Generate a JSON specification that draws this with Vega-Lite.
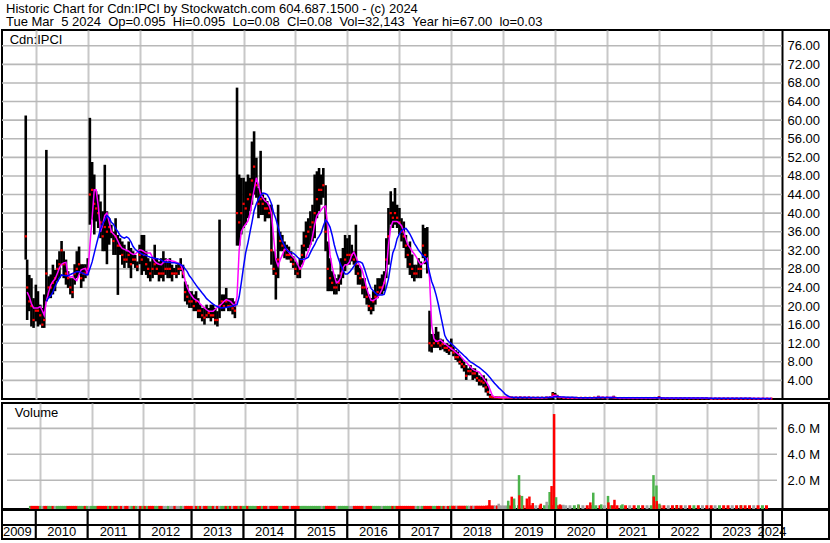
{
"$schema": "https://vega.github.io/schema/vega-lite/v6.json",
"padding": {"left": 0, "top": 2, "right": 0, "bottom": 0},
"background": "white",
"spacing": -2,
"title": {"text": ["Historic Chart for Cdn:IPCI by Stockwatch.com 604.687.1500 - (c) 2024", "Tue Mar\u00a0\u00a05 2024\u00a0\u00a0Op=0.095\u00a0\u00a0Hi=0.095\u00a0\u00a0Lo=0.08\u00a0\u00a0Cl=0.08\u00a0\u00a0Vol=32,143\u00a0\u00a0Year hi=67.00\u00a0\u00a0lo=0.03"], "anchor": "start", "frame": "group", "fontSize": 13, "fontWeight": "normal", "font": "Liberation Sans", "color": "black", "lineHeight": 13.5, "offset": 0, "dx": 4},
"datasets": {
"p": [
{"d":"2009-10-22","h":61,"l":30,"c":35,"v":30000,"k":"u"},
{"d":"2009-11-01","h":30,"l":17,"c":24,"m":23,"v":30000,"k":"d"},
{"d":"2009-11-16","h":26.7,"l":18.9,"c":21,"m":22,"v":30000,"k":"d"},
{"d":"2009-12-01","h":26,"l":15.6,"c":20,"m":20.5,"v":30000,"k":"d"},
{"d":"2009-12-16","h":21.7,"l":15.3,"c":17,"m":19.6,"v":30000,"k":"d"},
{"d":"2010-01-01","h":24.6,"l":16.7,"c":19,"m":19.6,"v":30000,"k":"u"},
{"d":"2010-01-16","h":23.2,"l":15.6,"c":19,"m":19.6,"v":30000,"k":"f"},
{"d":"2010-02-01","h":20.3,"l":16,"c":18,"m":19.9,"v":30000,"k":"d"},
{"d":"2010-02-16","h":19.6,"l":15.3,"c":16,"m":19,"v":30000,"k":"d"},
{"d":"2010-03-01","h":22.5,"l":15.3,"c":17,"m":18,"v":30000,"k":"u"},
{"d":"2010-03-16","h":53.6,"l":21,"c":27,"m":21,"b":21,"v":30000,"k":"u"},
{"d":"2010-04-01","h":26.4,"l":21.7,"c":24,"m":23,"b":21.8,"v":30000,"k":"d"},
{"d":"2010-04-16","h":26.8,"l":21.7,"c":24,"m":24.5,"b":22.2,"v":30000,"k":"f"},
{"d":"2010-05-01","h":28.9,"l":22.5,"c":25,"m":25.3,"b":23,"v":30000,"k":"u"},
{"d":"2010-05-16","h":27.8,"l":23.2,"c":26,"m":25.8,"b":24.2,"v":30000,"k":"u"},
{"d":"2010-06-01","h":30,"l":25.3,"c":28,"m":27,"b":25.2,"v":30000,"k":"u"},
{"d":"2010-06-16","h":31.8,"l":26,"c":29,"m":28.2,"b":26,"v":30000,"k":"u"},
{"d":"2010-07-01","h":34,"l":29,"c":32,"m":29,"b":26.7,"v":30000,"k":"u"},
{"d":"2010-07-16","h":31.8,"l":26,"c":29,"m":29.3,"b":26.6,"v":30000,"k":"d"},
{"d":"2010-08-01","h":30,"l":24.6,"c":27,"m":29.4,"b":26.5,"v":30000,"k":"d"},
{"d":"2010-08-16","h":27.5,"l":23.9,"c":26,"m":26.5,"b":26.5,"v":30000,"k":"d"},
{"d":"2010-09-01","h":26,"l":22.5,"c":24,"m":26.2,"b":26.8,"v":30000,"k":"d"},
{"d":"2010-09-16","h":26,"l":21.7,"c":23,"m":26.4,"b":27,"v":30000,"k":"d"},
{"d":"2010-10-01","h":29,"l":24.6,"c":27,"m":25.8,"b":27.2,"v":30000,"k":"u"},
{"d":"2010-10-16","h":31.8,"l":26,"c":28,"m":25.5,"b":27.4,"v":30000,"k":"u"},
{"d":"2010-11-01","h":32.8,"l":26.7,"c":29,"m":26.8,"b":27.4,"v":30000,"k":"u"},
{"d":"2010-11-16","h":29,"l":23.9,"c":26,"m":27.8,"b":27.2,"v":30000,"k":"d"},
{"d":"2010-12-01","h":29,"l":25.3,"c":27,"m":28,"b":27,"v":30000,"k":"u"},
{"d":"2010-12-16","h":29,"l":26,"c":27,"m":28.1,"b":26.8,"v":30000,"k":"f"},
{"d":"2011-01-01","h":30.3,"l":26.7,"c":28,"m":26.7,"b":26.7,"v":30000,"k":"u"},
{"d":"2011-01-16","h":60.5,"l":37.5,"c":44,"m":33,"b":28,"v":30000,"k":"u"},
{"d":"2011-02-01","h":51,"l":38.6,"c":45,"m":39,"b":29.5,"v":30000,"k":"u"},
{"d":"2011-02-16","h":48.3,"l":35.4,"c":42,"m":45,"b":31.4,"v":30000,"k":"d"},
{"d":"2011-03-01","h":44.7,"l":38.2,"c":41,"m":45,"b":33,"v":30000,"k":"d"},
{"d":"2011-03-16","h":44,"l":36.8,"c":40,"m":41.5,"b":34.8,"v":30000,"k":"d"},
{"d":"2011-04-01","h":42.5,"l":34.6,"c":38,"m":36,"b":36.6,"v":30000,"k":"d"},
{"d":"2011-04-16","h":40.4,"l":31.8,"c":35,"m":37.5,"b":37.7,"v":30000,"k":"d"},
{"d":"2011-05-01","h":50.4,"l":31.8,"c":37,"m":39.5,"b":38.5,"v":30000,"k":"u"},
{"d":"2011-05-16","h":40.4,"l":29,"c":36,"m":40,"b":39.5,"v":30000,"k":"d"},
{"d":"2011-06-01","h":38.9,"l":33.2,"c":37,"m":38,"b":39,"v":30000,"k":"u"},
{"d":"2011-06-16","h":37.5,"l":34.6,"c":36,"m":36,"b":38,"v":30000,"k":"d"},
{"d":"2011-07-01","h":36,"l":31,"c":34,"m":35.5,"b":37.6,"v":30000,"k":"d"},
{"d":"2011-07-16","h":38.9,"l":31,"c":35,"m":35,"b":36.7,"v":30000,"k":"u"},
{"d":"2011-08-01","h":35.3,"l":22.4,"c":33,"m":34,"b":36,"v":30000,"k":"d"},
{"d":"2011-08-16","h":34.6,"l":31,"c":33,"m":33,"b":35.2,"v":30000,"k":"f"},
{"d":"2011-09-01","h":33.9,"l":28.9,"c":31,"m":32.4,"b":34.8,"v":30000,"k":"d"},
{"d":"2011-09-16","h":33.2,"l":28.2,"c":30,"m":32.2,"b":34.6,"v":30000,"k":"d"},
{"d":"2011-10-01","h":31.8,"l":29.3,"c":30,"m":32,"b":34.9,"v":30000,"k":"f"},
{"d":"2011-10-16","h":33.9,"l":28.2,"c":31,"m":31.8,"b":34.6,"v":30000,"k":"u"},
{"d":"2011-11-01","h":32.5,"l":26,"c":29,"m":31.4,"b":33.8,"v":30000,"k":"d"},
{"d":"2011-11-16","h":31.8,"l":29,"c":30,"m":31.1,"b":32.8,"v":30000,"k":"u"},
{"d":"2011-12-01","h":31,"l":28.2,"c":30,"m":31.2,"b":32.2,"v":30000,"k":"f"},
{"d":"2011-12-16","h":29.6,"l":27.5,"c":28.5,"m":31.6,"b":31.8,"v":30000,"k":"d"},
{"d":"2012-01-01","h":33.2,"l":29,"c":31,"m":32.1,"b":31.5,"v":30000,"k":"u"},
{"d":"2012-01-16","h":35.3,"l":26.7,"c":30,"m":32,"b":31.2,"v":30000,"k":"d"},
{"d":"2012-02-01","h":35.3,"l":27.5,"c":31,"m":31.7,"b":31,"v":30000,"k":"u"},
{"d":"2012-02-16","h":31.8,"l":26.7,"c":29,"m":31.4,"b":30.9,"v":30000,"k":"d"},
{"d":"2012-03-01","h":30.3,"l":26,"c":28,"m":31.4,"b":30.7,"v":30000,"k":"d"},
{"d":"2012-03-16","h":29.6,"l":25.3,"c":27,"m":31.4,"b":30.5,"v":30000,"k":"d"},
{"d":"2012-04-01","h":30.3,"l":26,"c":28,"m":30.5,"b":30.4,"v":30000,"k":"u"},
{"d":"2012-04-16","h":33.2,"l":26.7,"c":29,"m":29.6,"b":30.3,"v":30000,"k":"u"},
{"d":"2012-05-01","h":30.3,"l":26.7,"c":28,"m":29.2,"b":30.2,"v":30000,"k":"d"},
{"d":"2012-05-16","h":29.6,"l":25.3,"c":27,"m":29,"b":30.1,"v":30000,"k":"d"},
{"d":"2012-06-01","h":30.3,"l":26,"c":27,"m":28.9,"b":29.9,"v":30000,"k":"f"},
{"d":"2012-06-16","h":31.8,"l":25.3,"c":27,"m":29.4,"b":29.6,"v":30000,"k":"f"},
{"d":"2012-07-01","h":30.3,"l":26.7,"c":28,"m":29.8,"b":29.5,"v":30000,"k":"u"},
{"d":"2012-07-16","h":29.6,"l":26,"c":28,"m":30,"b":29.4,"v":30000,"k":"f"},
{"d":"2012-08-01","h":30.3,"l":26,"c":28,"m":29.8,"b":29.4,"v":30000,"k":"f"},
{"d":"2012-08-16","h":28.9,"l":25.3,"c":27,"m":29.7,"b":29.3,"v":30000,"k":"d"},
{"d":"2012-09-01","h":28.2,"l":26.7,"c":27,"m":29.6,"b":29.3,"v":30000,"k":"f"},
{"d":"2012-09-16","h":28.9,"l":26,"c":27,"m":29.4,"b":29.2,"v":30000,"k":"f"},
{"d":"2012-10-01","h":29.3,"l":26.7,"c":28,"m":29.2,"b":29.1,"v":30000,"k":"u"},
{"d":"2012-10-16","h":30.3,"l":27.5,"c":28,"m":28.9,"b":28.9,"v":30000,"k":"f"},
{"d":"2012-11-01","h":28.9,"l":26,"c":27,"m":27.5,"b":28.6,"v":30000,"k":"d"},
{"d":"2012-11-16","h":25.3,"l":21,"c":23,"m":25.5,"b":28,"v":30000,"k":"d"},
{"d":"2012-12-01","h":24.6,"l":20.3,"c":22,"m":24,"b":27.4,"v":30000,"k":"d"},
{"d":"2012-12-16","h":23.2,"l":19.6,"c":21,"m":23,"b":26.5,"v":30000,"k":"d"},
{"d":"2013-01-01","h":23.2,"l":19.6,"c":21,"m":22.2,"b":25.9,"v":30000,"k":"f"},
{"d":"2013-01-16","h":22.5,"l":18.9,"c":20,"m":21.6,"b":25.2,"v":30000,"k":"d"},
{"d":"2013-02-01","h":23.2,"l":18.9,"c":21,"m":21.3,"b":24.5,"v":30000,"k":"u"},
{"d":"2013-02-16","h":21.7,"l":17.4,"c":19,"m":21,"b":23.9,"v":30000,"k":"d"},
{"d":"2013-03-01","h":20.3,"l":17.4,"c":19,"m":20.5,"b":23.4,"v":30000,"k":"f"},
{"d":"2013-03-16","h":19.6,"l":16.7,"c":18,"m":20,"b":22.8,"v":30000,"k":"d"},
{"d":"2013-04-01","h":19.6,"l":16,"c":17.5,"m":19.6,"b":22.2,"v":30000,"k":"d"},
{"d":"2013-04-16","h":20.3,"l":17.4,"c":18,"m":19.2,"b":21.6,"v":30000,"k":"u"},
{"d":"2013-05-01","h":19.6,"l":17.4,"c":18.5,"m":18.9,"b":21.2,"v":30000,"k":"u"},
{"d":"2013-05-16","h":20.3,"l":16.7,"c":18,"m":18.9,"b":20.8,"v":30000,"k":"d"},
{"d":"2013-06-01","h":20.3,"l":17.4,"c":18,"m":18.9,"b":20.4,"v":30000,"k":"f"},
{"d":"2013-06-16","h":19.6,"l":16,"c":17,"m":19.3,"b":20.1,"v":30000,"k":"d"},
{"d":"2013-07-01","h":18.9,"l":15.6,"c":17,"m":19.7,"b":19.9,"v":30000,"k":"f"},
{"d":"2013-07-16","h":38.6,"l":17.4,"c":20,"m":20.1,"b":19.7,"v":30000,"k":"u"},
{"d":"2013-08-01","h":22.5,"l":18.9,"c":21,"m":20.5,"b":19.6,"v":30000,"k":"u"},
{"d":"2013-08-16","h":22.5,"l":18.9,"c":20,"m":21,"b":19.7,"v":30000,"k":"d"},
{"d":"2013-09-01","h":23.9,"l":19.6,"c":21,"m":21.4,"b":19.7,"v":30000,"k":"u"},
{"d":"2013-09-16","h":21.7,"l":18.9,"c":20,"m":21.2,"b":19.8,"v":30000,"k":"d"},
{"d":"2013-10-01","h":21.7,"l":18.9,"c":20,"m":21,"b":19.9,"v":30000,"k":"f"},
{"d":"2013-10-16","h":21.7,"l":18.2,"c":19.5,"m":20.5,"b":20,"v":30000,"k":"d"},
{"d":"2013-11-01","h":21,"l":17.4,"c":19,"m":20,"b":20.2,"v":30000,"k":"d"},
{"d":"2013-11-16","h":67,"l":33,"c":40,"m":22,"b":20.3,"v":30000,"k":"u"},
{"d":"2013-12-01","h":48.3,"l":33,"c":38,"m":32,"b":22,"v":30000,"k":"d"},
{"d":"2013-12-16","h":47.6,"l":35.4,"c":40,"m":36,"b":25,"v":30000,"k":"u"},
{"d":"2014-01-01","h":47.6,"l":36.8,"c":42,"m":37,"b":28.5,"v":30000,"k":"u"},
{"d":"2014-01-16","h":46.8,"l":37.5,"c":41,"m":37.6,"b":31.5,"v":30000,"k":"d"},
{"d":"2014-02-01","h":48.3,"l":38.9,"c":43,"m":38.3,"b":33.6,"v":30000,"k":"u"},
{"d":"2014-02-16","h":47.6,"l":40.4,"c":44,"m":40,"b":36,"v":30000,"k":"u"},
{"d":"2014-03-01","h":55.4,"l":41.8,"c":47,"m":42.5,"b":38,"v":30000,"k":"u"},
{"d":"2014-03-16","h":57.6,"l":44,"c":50,"m":45,"b":40.5,"v":30000,"k":"u"},
{"d":"2014-04-01","h":51.9,"l":43.3,"c":46,"m":47.6,"b":42,"v":30000,"k":"d"},
{"d":"2014-04-16","h":45.4,"l":38.9,"c":42,"m":46,"b":43,"v":30000,"k":"d"},
{"d":"2014-05-01","h":53.4,"l":39.6,"c":43,"m":44,"b":43.8,"v":30000,"k":"u"},
{"d":"2014-05-16","h":44,"l":39.6,"c":42,"m":43.3,"b":44.3,"v":30000,"k":"d"},
{"d":"2014-06-01","h":43.3,"l":38.2,"c":41,"m":42.6,"b":44.2,"v":30000,"k":"d"},
{"d":"2014-06-16","h":42.6,"l":38.9,"c":41,"m":42.3,"b":44,"v":30000,"k":"f"},
{"d":"2014-07-01","h":41.8,"l":38.9,"c":40,"m":41.5,"b":43.2,"v":30000,"k":"d"},
{"d":"2014-07-16","h":41.8,"l":28.9,"c":32,"m":40,"b":42,"v":30000,"k":"d"},
{"d":"2014-08-01","h":31.8,"l":26.7,"c":28,"m":34.6,"b":40,"v":30000,"k":"d"},
{"d":"2014-08-16","h":30.3,"l":21.4,"c":27,"m":30,"b":38.8,"v":30000,"k":"d"},
{"d":"2014-09-01","h":41.8,"l":26,"c":30,"m":28.6,"b":37,"v":30000,"k":"u"},
{"d":"2014-09-16","h":36,"l":31.8,"c":34,"m":30,"b":35.2,"v":30000,"k":"u"},
{"d":"2014-10-01","h":35.3,"l":31.8,"c":33,"m":31,"b":33.9,"v":30000,"k":"d"},
{"d":"2014-10-16","h":33.9,"l":30.3,"c":32,"m":32.2,"b":33,"v":30000,"k":"d"},
{"d":"2014-11-01","h":33.2,"l":30,"c":31,"m":32.2,"b":32,"v":30000,"k":"d"},
{"d":"2014-11-16","h":32.8,"l":30,"c":31,"m":31.6,"b":31.7,"v":30000,"k":"f"},
{"d":"2014-12-01","h":31.8,"l":29.3,"c":30,"m":31,"b":31.5,"v":30000,"k":"d"},
{"d":"2014-12-16","h":30.7,"l":28.2,"c":29,"m":30.5,"b":31.4,"v":30000,"k":"d"},
{"d":"2015-01-01","h":29.6,"l":26.7,"c":28,"m":30,"b":31,"v":30000,"k":"d"},
{"d":"2015-01-16","h":28.9,"l":26,"c":27,"m":29,"b":30.5,"v":30000,"k":"d"},
{"d":"2015-02-01","h":30.3,"l":26,"c":28,"m":28,"b":30.1,"v":30000,"k":"u"},
{"d":"2015-02-16","h":33.2,"l":28.9,"c":31,"m":28.5,"b":30,"v":30000,"k":"u"},
{"d":"2015-03-01","h":36,"l":30.3,"c":33,"m":29.6,"b":30.1,"v":30000,"k":"u"},
{"d":"2015-03-16","h":38.2,"l":31.8,"c":35,"m":30.5,"b":30.2,"v":30000,"k":"u"},
{"d":"2015-04-01","h":38.9,"l":32.5,"c":36,"m":31.8,"b":30.5,"v":30000,"k":"u"},
{"d":"2015-04-16","h":40.4,"l":33.2,"c":37,"m":33,"b":31.5,"v":30000,"k":"u"},
{"d":"2015-05-01","h":41.8,"l":33.9,"c":38,"m":35,"b":32.4,"v":30000,"k":"u"},
{"d":"2015-05-16","h":48.3,"l":34.6,"c":40,"m":37.5,"b":33.2,"v":30000,"k":"u"},
{"d":"2015-06-01","h":49,"l":38.9,"c":43,"m":39.5,"b":34.3,"v":30000,"k":"u"},
{"d":"2015-06-16","h":49.7,"l":40.4,"c":45,"m":40,"b":35,"v":30000,"k":"u"},
{"d":"2015-07-01","h":48.3,"l":41.8,"c":45,"m":40.7,"b":35.8,"v":30000,"k":"f"},
{"d":"2015-07-16","h":49.7,"l":43.3,"c":46,"m":41.3,"b":37.2,"v":30000,"k":"u"},
{"d":"2015-08-01","h":46,"l":31.8,"c":36,"m":41.5,"b":38.5,"v":30000,"k":"d"},
{"d":"2015-08-16","h":33.9,"l":23.2,"c":28,"m":37,"b":38,"v":30000,"k":"d"},
{"d":"2015-09-01","h":30.3,"l":23.2,"c":26,"m":31,"b":37,"v":30000,"k":"d"},
{"d":"2015-09-16","h":27.5,"l":23.2,"c":25,"m":28.5,"b":35.3,"v":30000,"k":"d"},
{"d":"2015-10-01","h":26.8,"l":22.5,"c":24,"m":26.5,"b":33.2,"v":30000,"k":"d"},
{"d":"2015-10-16","h":26,"l":22.5,"c":24,"m":25,"b":31.5,"v":30000,"k":"f"},
{"d":"2015-11-01","h":26.8,"l":23.2,"c":25,"m":25.3,"b":30,"v":30000,"k":"u"},
{"d":"2015-11-16","h":30.3,"l":24.6,"c":27,"m":26.2,"b":28.8,"v":30000,"k":"u"},
{"d":"2015-12-01","h":32.5,"l":26,"c":28,"m":28.2,"b":27.8,"v":30000,"k":"u"},
{"d":"2015-12-16","h":35.3,"l":27.5,"c":30,"m":28.9,"b":26.9,"v":30000,"k":"u"},
{"d":"2016-01-01","h":34.6,"l":28.9,"c":31,"m":28.9,"b":26.9,"v":30000,"k":"u"},
{"d":"2016-01-16","h":35.3,"l":28.9,"c":31,"m":29.5,"b":27.3,"v":30000,"k":"f"},
{"d":"2016-02-01","h":33.2,"l":29.6,"c":31,"m":31,"b":27.9,"v":30000,"k":"f"},
{"d":"2016-02-16","h":31.8,"l":28.9,"c":30,"m":31.6,"b":28.6,"v":30000,"k":"d"},
{"d":"2016-03-01","h":37.5,"l":26.7,"c":29,"m":30.6,"b":29.2,"v":30000,"k":"d"},
{"d":"2016-03-16","h":28.9,"l":24.6,"c":27,"m":29.4,"b":29.6,"v":30000,"k":"d"},
{"d":"2016-04-01","h":28.2,"l":24.6,"c":26,"m":28.5,"b":29.5,"v":30000,"k":"d"},
{"d":"2016-04-16","h":26,"l":22.5,"c":24,"m":27.5,"b":29.2,"v":30000,"k":"d"},
{"d":"2016-05-01","h":26,"l":21.7,"c":24,"m":25.8,"b":28,"v":30000,"k":"f"},
{"d":"2016-05-16","h":23.9,"l":20.3,"c":22,"m":23.8,"b":26.5,"v":30000,"k":"d"},
{"d":"2016-06-01","h":22.5,"l":18.9,"c":20,"m":22.2,"b":25,"v":30000,"k":"d"},
{"d":"2016-06-16","h":21.7,"l":18.2,"c":19.5,"m":21.2,"b":23.8,"v":30000,"k":"d"},
{"d":"2016-07-01","h":23.2,"l":18.9,"c":21,"m":21.2,"b":23.3,"v":30000,"k":"u"},
{"d":"2016-07-16","h":24.6,"l":20.3,"c":22,"m":21.5,"b":22.8,"v":30000,"k":"u"},
{"d":"2016-08-01","h":26,"l":21.7,"c":23,"m":21.8,"b":22.4,"v":30000,"k":"u"},
{"d":"2016-08-16","h":26,"l":22.5,"c":24,"m":22.6,"b":22.4,"v":30000,"k":"u"},
{"d":"2016-09-01","h":26.8,"l":22.5,"c":24,"m":23.6,"b":22.4,"v":30000,"k":"f"},
{"d":"2016-09-16","h":27.5,"l":23.2,"c":25,"m":25,"b":22.5,"v":30000,"k":"u"},
{"d":"2016-10-01","h":34.6,"l":26,"c":30,"m":27.5,"b":24,"v":30000,"k":"u"},
{"d":"2016-10-16","h":41.1,"l":28.9,"c":35,"m":33,"b":25.8,"v":30000,"k":"u"},
{"d":"2016-11-01","h":44.7,"l":37.5,"c":40,"m":37,"b":28.9,"v":30000,"k":"u"},
{"d":"2016-11-16","h":42.5,"l":36.8,"c":39,"m":38.2,"b":31.5,"v":30000,"k":"d"},
{"d":"2016-12-01","h":45.4,"l":37.5,"c":40,"m":38.2,"b":32.6,"v":30000,"k":"u"},
{"d":"2016-12-16","h":41.8,"l":36.8,"c":39,"m":38.2,"b":34.5,"v":30000,"k":"d"},
{"d":"2017-01-01","h":41.1,"l":35.4,"c":38,"m":37.8,"b":35.5,"v":30000,"k":"d"},
{"d":"2017-01-16","h":38.9,"l":33.9,"c":36,"m":37.3,"b":36.2,"v":30000,"k":"d"},
{"d":"2017-02-01","h":38.2,"l":32.5,"c":35,"m":36,"b":36.6,"v":30000,"k":"d"},
{"d":"2017-02-16","h":35.3,"l":30.3,"c":33,"m":34.4,"b":36.7,"v":30000,"k":"d"},
{"d":"2017-03-01","h":33.2,"l":28.2,"c":31,"m":33.2,"b":36.2,"v":30000,"k":"d"},
{"d":"2017-03-16","h":33.9,"l":26.7,"c":29,"m":32.6,"b":35.5,"v":30000,"k":"d"},
{"d":"2017-04-01","h":31.1,"l":26,"c":28,"m":31.8,"b":34.5,"v":30000,"k":"d"},
{"d":"2017-04-16","h":28.9,"l":25.3,"c":27,"m":31.2,"b":33.5,"v":30000,"k":"d"},
{"d":"2017-05-01","h":28.9,"l":26,"c":27,"m":30.5,"b":32.8,"v":30000,"k":"f"},
{"d":"2017-05-16","h":30.3,"l":26,"c":28,"m":29.6,"b":32,"v":30000,"k":"u"},
{"d":"2017-06-01","h":29.6,"l":26,"c":28,"m":28.9,"b":31.4,"v":30000,"k":"f"},
{"d":"2017-06-16","h":37.5,"l":30.3,"c":33,"m":29.2,"b":30.8,"v":30000,"k":"u"},
{"d":"2017-07-01","h":36.8,"l":29,"c":31,"m":29.6,"b":30.5,"v":30000,"k":"d"},
{"d":"2017-07-16","h":37,"l":27,"c":30,"m":30.2,"b":29.5,"v":30000,"k":"d"},
{"d":"2017-08-01","h":19,"l":10.2,"c":12,"m":26,"b":27.2,"v":30000,"k":"d"},
{"d":"2017-08-16","h":14,"l":10,"c":11.5,"m":16,"b":25.3,"v":30000,"k":"d"},
{"d":"2017-09-01","h":14,"l":11,"c":12,"m":13,"b":24,"v":30000,"k":"u"},
{"d":"2017-09-16","h":15.5,"l":11,"c":12.5,"m":12.4,"b":22.4,"v":30000,"k":"u"},
{"d":"2017-10-01","h":14.5,"l":11,"c":12,"m":12.5,"b":20.5,"v":30000,"k":"d"},
{"d":"2017-10-16","h":13,"l":10.5,"c":11.5,"m":12.7,"b":18.3,"v":30000,"k":"d"},
{"d":"2017-11-01","h":12.8,"l":10.7,"c":11.8,"m":12.3,"b":16,"v":30000,"k":"u"},
{"d":"2017-11-16","h":11.7,"l":10.2,"c":11,"m":11.9,"b":13.7,"v":30000,"k":"d"},
{"d":"2017-12-01","h":12,"l":9.9,"c":11,"m":11.6,"b":12.8,"v":30000,"k":"f"},
{"d":"2017-12-16","h":11.7,"l":9.5,"c":10.5,"m":11.2,"b":12.3,"v":30000,"k":"d"},
{"d":"2018-01-01","h":13,"l":10.2,"c":11,"m":10.8,"b":11.9,"v":40000,"k":"u"},
{"d":"2018-01-16","h":11.3,"l":9.2,"c":10,"m":10.5,"b":11.5,"v":40000,"k":"d"},
{"d":"2018-02-01","h":10.5,"l":8.4,"c":9,"m":10.1,"b":11,"v":40000,"k":"d"},
{"d":"2018-02-16","h":10.2,"l":8,"c":9,"m":9.7,"b":10.6,"v":40000,"k":"f"},
{"d":"2018-03-01","h":9.5,"l":7.4,"c":8,"m":9.4,"b":10.2,"v":40000,"k":"d"},
{"d":"2018-03-16","h":8.8,"l":6.6,"c":7.5,"m":8.9,"b":9.8,"v":40000,"k":"d"},
{"d":"2018-04-01","h":8.1,"l":5.9,"c":7,"m":8.3,"b":9.3,"v":40000,"k":"d"},
{"d":"2018-04-16","h":7.3,"l":4.1,"c":5,"m":7.9,"b":8.9,"v":40000,"k":"d"},
{"d":"2018-05-01","h":6.6,"l":5.1,"c":6,"m":7.4,"b":8.4,"v":40000,"k":"u"},
{"d":"2018-05-16","h":7.3,"l":5.1,"c":6,"m":6.9,"b":8,"v":40000,"k":"f"},
{"d":"2018-06-01","h":6.6,"l":4.1,"c":5.5,"m":6.4,"b":7.7,"v":40000,"k":"d"},
{"d":"2018-06-16","h":6.6,"l":4.4,"c":5.5,"m":6.1,"b":7.4,"v":40000,"k":"f"},
{"d":"2018-07-01","h":5.8,"l":3.7,"c":4.5,"m":6,"b":7.1,"v":40000,"k":"d"},
{"d":"2018-07-16","h":5.1,"l":2.9,"c":4,"m":5.8,"b":6.8,"v":40000,"k":"d"},
{"d":"2018-08-01","h":4.8,"l":2.9,"c":3.8,"m":5.2,"b":6.4,"v":40000,"k":"d"},
{"d":"2018-08-16","h":5.1,"l":2.5,"c":3.5,"m":4.4,"b":6,"v":40000,"k":"d"},
{"d":"2018-09-01","h":4.4,"l":1.4,"c":2.5,"m":3.8,"b":5.6,"v":40000,"k":"d"},
{"d":"2018-09-16","h":2.9,"l":0.7,"c":1.5,"m":3.1,"b":5.1,"v":60000,"k":"d"},
{"d":"2018-10-01","h":1.1,"l":0.3,"c":0.5,"m":2,"b":4.6,"v":60000,"k":"d"},
{"d":"2018-10-16","h":0.6,"l":0.2,"c":0.4,"m":0.8,"b":4,"v":60000,"k":"d"},
{"d":"2018-11-01","h":0.5,"l":0.2,"c":0.35,"m":0.4,"b":3.4,"v":60000,"k":"d"},
{"d":"2018-11-16","h":0.5,"l":0.2,"c":0.35,"m":0.35,"b":2.9,"v":60000,"k":"f"},
{"d":"2018-12-01","h":0.5,"l":0.2,"c":0.3,"m":0.35,"b":2.4,"v":60000,"k":"d"},
{"d":"2018-12-16","h":0.45,"l":0.2,"c":0.3,"m":0.3,"b":2,"v":60000,"k":"f"},
{"d":"2019-01-01","h":0.45,"l":0.2,"c":0.3,"m":0.3,"b":1.5,"v":60000,"k":"f"},
{"d":"2019-01-16","h":0.45,"l":0.2,"c":0.3,"m":0.3,"b":1,"v":60000,"k":"f"},
{"d":"2019-02-01","h":0.45,"l":0.2,"c":0.3,"m":0.3,"b":0.7,"v":60000,"k":"f"},
{"d":"2019-02-16","h":0.5,"l":0.2,"c":0.32,"m":0.3,"b":0.45,"v":60000,"k":"u"},
{"d":"2019-03-01","h":0.5,"l":0.2,"c":0.3,"m":0.3,"b":0.35,"v":60000,"k":"d"},
{"d":"2019-04-01","h":0.5,"l":0.2,"c":0.3,"m":0.3,"b":0.32,"v":80000,"k":"f"},
{"d":"2019-05-01","h":0.55,"l":0.2,"c":0.3,"m":0.3,"b":0.32,"v":80000,"k":"u"},
{"d":"2019-06-01","h":0.5,"l":0.2,"c":0.3,"m":0.3,"b":0.32,"v":80000,"k":"d"},
{"d":"2019-07-01","h":0.5,"l":0.2,"c":0.3,"m":0.3,"b":0.31,"v":80000,"k":"d"},
{"d":"2019-08-01","h":0.45,"l":0.2,"c":0.28,"m":0.29,"b":0.3,"v":80000,"k":"d"},
{"d":"2019-09-01","h":0.45,"l":0.18,"c":0.28,"m":0.28,"b":0.3,"v":80000,"k":"f"},
{"d":"2019-10-01","h":0.45,"l":0.18,"c":0.27,"m":0.28,"b":0.3,"v":80000,"k":"d"},
{"d":"2019-11-01","h":0.5,"l":0.2,"c":0.3,"m":0.3,"b":0.3,"v":80000,"k":"u"},
{"d":"2019-12-01","h":0.6,"l":0.25,"c":0.4,"m":0.35,"b":0.35,"v":80000,"k":"u"},
{"d":"2019-12-16","h":1.5,"l":0.3,"c":1,"m":0.6,"b":0.4,"v":80000,"k":"u"},
{"d":"2020-01-01","h":1.3,"l":0.4,"c":0.7,"m":0.8,"b":0.5,"v":80000,"k":"d"},
{"d":"2020-01-16","h":0.9,"l":0.3,"c":0.5,"m":0.6,"b":0.55,"v":80000,"k":"d"},
{"d":"2020-02-01","h":0.6,"l":0.25,"c":0.35,"m":0.45,"b":0.5,"v":80000,"k":"d"},
{"d":"2020-03-01","h":0.45,"l":0.15,"c":0.25,"m":0.3,"b":0.45,"v":80000,"k":"d"},
{"d":"2020-04-01","h":0.4,"l":0.15,"c":0.25,"m":0.28,"b":0.4,"v":80000,"k":"f"},
{"d":"2020-05-01","h":0.4,"l":0.15,"c":0.25,"m":0.27,"b":0.35,"v":80000,"k":"f"},
{"d":"2020-06-01","h":0.4,"l":0.15,"c":0.25,"m":0.27,"b":0.3,"v":80000,"k":"u"},
{"d":"2020-07-01","h":0.4,"l":0.15,"c":0.25,"m":0.27,"b":0.28,"v":80000,"k":"d"},
{"d":"2020-08-01","h":0.4,"l":0.15,"c":0.25,"m":0.27,"b":0.28,"v":80000,"k":"f"},
{"d":"2020-09-01","h":0.4,"l":0.15,"c":0.25,"m":0.27,"b":0.28,"v":80000,"k":"d"},
{"d":"2020-10-01","h":0.45,"l":0.15,"c":0.28,"m":0.28,"b":0.28,"v":80000,"k":"u"},
{"d":"2020-11-01","h":0.7,"l":0.2,"c":0.35,"m":0.35,"b":0.3,"v":80000,"k":"u"},
{"d":"2020-12-01","h":0.45,"l":0.2,"c":0.3,"m":0.32,"b":0.3,"v":80000,"k":"d"},
{"d":"2021-01-01","h":0.45,"l":0.2,"c":0.3,"m":0.3,"b":0.3,"v":80000,"k":"f"},
{"d":"2021-02-16","h":0.7,"l":0.2,"c":0.35,"m":0.35,"b":0.32,"v":80000,"k":"u"},
{"d":"2021-03-01","h":0.4,"l":0.15,"c":0.25,"m":0.3,"b":0.3,"v":80000,"k":"d"},
{"d":"2021-04-01","h":0.35,"l":0.12,"c":0.2,"m":0.22,"b":0.28,"v":80000,"k":"d"},
{"d":"2021-05-01","h":0.35,"l":0.12,"c":0.2,"m":0.22,"b":0.26,"v":80000,"k":"u"},
{"d":"2021-06-01","h":0.35,"l":0.12,"c":0.2,"m":0.22,"b":0.25,"v":80000,"k":"d"},
{"d":"2021-07-01","h":0.35,"l":0.12,"c":0.2,"m":0.22,"b":0.25,"v":80000,"k":"f"},
{"d":"2021-08-01","h":0.35,"l":0.12,"c":0.2,"m":0.22,"b":0.25,"v":80000,"k":"d"},
{"d":"2021-09-01","h":0.35,"l":0.12,"c":0.2,"m":0.22,"b":0.25,"v":80000,"k":"u"},
{"d":"2021-10-01","h":0.35,"l":0.12,"c":0.2,"m":0.22,"b":0.25,"v":80000,"k":"d"},
{"d":"2021-11-01","h":0.35,"l":0.12,"c":0.2,"m":0.22,"b":0.25,"v":80000,"k":"f"},
{"d":"2021-12-01","h":0.4,"l":0.12,"c":0.22,"m":0.23,"b":0.25,"v":80000,"k":"u"},
{"d":"2022-01-01","h":0.6,"l":0.15,"c":0.3,"m":0.3,"b":0.25,"v":80000,"k":"u"},
{"d":"2022-02-01","h":0.3,"l":0.08,"c":0.15,"m":0.2,"b":0.24,"v":80000,"k":"d"},
{"d":"2022-03-01","h":0.3,"l":0.08,"c":0.15,"m":0.16,"b":0.22,"v":80000,"k":"d"},
{"d":"2022-04-01","h":0.3,"l":0.08,"c":0.15,"m":0.16,"b":0.2,"v":80000,"k":"f"},
{"d":"2022-05-01","h":0.3,"l":0.08,"c":0.15,"m":0.16,"b":0.2,"v":80000,"k":"d"},
{"d":"2022-06-01","h":0.3,"l":0.08,"c":0.15,"m":0.16,"b":0.2,"v":80000,"k":"u"},
{"d":"2022-07-01","h":0.3,"l":0.08,"c":0.15,"m":0.16,"b":0.2,"v":80000,"k":"d"},
{"d":"2022-08-01","h":0.3,"l":0.08,"c":0.15,"m":0.16,"b":0.2,"v":80000,"k":"f"},
{"d":"2022-09-01","h":0.3,"l":0.08,"c":0.15,"m":0.16,"b":0.2,"v":80000,"k":"d"},
{"d":"2022-10-01","h":0.3,"l":0.08,"c":0.15,"m":0.16,"b":0.2,"v":80000,"k":"u"},
{"d":"2022-11-01","h":0.3,"l":0.08,"c":0.15,"m":0.16,"b":0.2,"v":80000,"k":"d"},
{"d":"2022-12-01","h":0.3,"l":0.08,"c":0.15,"m":0.16,"b":0.2,"v":80000,"k":"f"},
{"d":"2023-01-01","h":0.25,"l":0.05,"c":0.1,"m":0.12,"b":0.15,"v":80000,"k":"d"},
{"d":"2023-02-01","h":0.25,"l":0.05,"c":0.1,"m":0.12,"b":0.15,"v":80000,"k":"d"},
{"d":"2023-03-01","h":0.25,"l":0.05,"c":0.1,"m":0.12,"b":0.15,"v":80000,"k":"f"},
{"d":"2023-04-01","h":0.25,"l":0.05,"c":0.1,"m":0.12,"b":0.15,"v":80000,"k":"u"},
{"d":"2023-05-01","h":0.25,"l":0.05,"c":0.1,"m":0.12,"b":0.15,"v":80000,"k":"d"},
{"d":"2023-06-01","h":0.25,"l":0.05,"c":0.1,"m":0.12,"b":0.15,"v":80000,"k":"d"},
{"d":"2023-07-01","h":0.25,"l":0.05,"c":0.1,"m":0.12,"b":0.15,"v":80000,"k":"f"},
{"d":"2023-08-01","h":0.25,"l":0.05,"c":0.1,"m":0.12,"b":0.15,"v":80000,"k":"d"},
{"d":"2023-09-01","h":0.25,"l":0.05,"c":0.1,"m":0.12,"b":0.15,"v":80000,"k":"u"},
{"d":"2023-10-01","h":0.25,"l":0.05,"c":0.1,"m":0.12,"b":0.15,"v":80000,"k":"d"},
{"d":"2023-11-01","h":0.2,"l":0.03,"c":0.08,"m":0.1,"b":0.13,"v":80000,"k":"d"},
{"d":"2023-12-01","h":0.2,"l":0.03,"c":0.08,"m":0.1,"b":0.12,"v":80000,"k":"f"},
{"d":"2024-01-01","h":0.2,"l":0.03,"c":0.08,"m":0.1,"b":0.12,"v":80000,"k":"d"},
{"d":"2024-02-01","h":0.2,"l":0.03,"c":0.08,"m":0.1,"b":0.12,"v":80000,"k":"u"},
{"d":"2024-03-01","h":0.2,"l":0.03,"c":0.08,"m":0.1,"b":0.12,"v":80000,"k":"d"}
],
"vs": [
{"d":"2018-10-05","v":480000,"k":"d"},
{"d":"2018-12-10","v":200000,"k":"f"},
{"d":"2019-02-16","v":430000,"k":"u"},
{"d":"2019-03-13","v":740000,"k":"d"},
{"d":"2019-03-30","v":600000,"k":"u"},
{"d":"2019-05-04","v":2400000,"k":"u"},
{"d":"2019-05-07","v":850000,"k":"d"},
{"d":"2019-05-25","v":800000,"k":"u"},
{"d":"2019-06-29","v":600000,"k":"d"},
{"d":"2019-07-17","v":750000,"k":"d"},
{"d":"2019-08-10","v":250000,"k":"d"},
{"d":"2019-10-06","v":200000,"k":"d"},
{"d":"2019-11-17","v":350000,"k":"f"},
{"d":"2019-12-08","v":1100000,"k":"u"},
{"d":"2019-12-22","v":1560000,"k":"d"},
{"d":"2020-01-09","v":7100000,"k":"d"},
{"d":"2020-01-23","v":700000,"k":"u"},
{"d":"2020-02-20","v":150000,"k":"d"},
{"d":"2020-03-15","v":120000,"k":"f"},
{"d":"2020-06-30","v":150000,"k":"u"},
{"d":"2020-09-23","v":300000,"k":"d"},
{"d":"2020-10-14","v":1050000,"k":"u"},
{"d":"2020-12-10","v":150000,"k":"u"},
{"d":"2021-01-27","v":800000,"k":"u"},
{"d":"2021-01-30","v":300000,"k":"d"},
{"d":"2021-03-14","v":500000,"k":"d"},
{"d":"2021-05-10","v":150000,"k":"u"},
{"d":"2021-12-17","v":2400000,"k":"u"},
{"d":"2021-12-19","v":750000,"k":"d"},
{"d":"2022-01-07","v":1600000,"k":"u"},
{"d":"2022-01-09","v":400000,"k":"d"},
{"d":"2022-01-28","v":200000,"k":"u"},
{"d":"2022-06-01","v":100000,"k":"d"},
{"d":"2023-09-01","v":80000,"k":"d"}
],
"gp": [
{"g":4,"s":"2009-05-08","e":"2024-05-15"},{"g":8,"s":"2009-05-08","e":"2024-05-15"},{"g":12,"s":"2009-05-08","e":"2024-05-15"},{"g":16,"s":"2009-05-08","e":"2024-05-15"},{"g":20,"s":"2009-05-08","e":"2024-05-15"},{"g":24,"s":"2009-05-08","e":"2024-05-15"},{"g":28,"s":"2009-05-08","e":"2024-05-15"},{"g":32,"s":"2009-05-08","e":"2024-05-15"},{"g":36,"s":"2009-05-08","e":"2024-05-15"},{"g":40,"s":"2009-05-08","e":"2024-05-15"},{"g":44,"s":"2009-05-08","e":"2024-05-15"},{"g":48,"s":"2009-05-08","e":"2024-05-15"},{"g":52,"s":"2009-05-08","e":"2024-05-15"},{"g":56,"s":"2009-05-08","e":"2024-05-15"},{"g":60,"s":"2009-05-08","e":"2024-05-15"},{"g":64,"s":"2009-05-08","e":"2024-05-15"},{"g":68,"s":"2009-05-08","e":"2024-05-15"},{"g":72,"s":"2009-05-08","e":"2024-05-15"},{"g":76,"s":"2009-05-08","e":"2024-05-15"}
],
"gv": [
{"g":2000000,"s":"2009-05-08","e":"2024-05-15"},{"g":4000000,"s":"2009-05-08","e":"2024-05-15"},{"g":6000000,"s":"2009-05-08","e":"2024-05-15"}
],
"yr": [
{"y":"2009","s":"2009-05-08","e":"2010-01-01","mid":"2009-08-24"},
{"y":"2010","s":"2010-01-01","e":"2011-01-01","mid":"2010-07-02"},
{"y":"2011","s":"2011-01-01","e":"2012-01-01","mid":"2011-07-02"},
{"y":"2012","s":"2012-01-01","e":"2013-01-01","mid":"2012-07-02"},
{"y":"2013","s":"2013-01-01","e":"2014-01-01","mid":"2013-07-02"},
{"y":"2014","s":"2014-01-01","e":"2015-01-01","mid":"2014-07-02"},
{"y":"2015","s":"2015-01-01","e":"2016-01-01","mid":"2015-07-02"},
{"y":"2016","s":"2016-01-01","e":"2017-01-01","mid":"2016-07-02"},
{"y":"2017","s":"2017-01-01","e":"2018-01-01","mid":"2017-07-02"},
{"y":"2018","s":"2018-01-01","e":"2019-01-01","mid":"2018-07-02"},
{"y":"2019","s":"2019-01-01","e":"2020-01-01","mid":"2019-07-02"},
{"y":"2020","s":"2020-01-01","e":"2021-01-01","mid":"2020-07-02"},
{"y":"2021","s":"2021-01-01","e":"2022-01-01","mid":"2021-07-02"},
{"y":"2022","s":"2022-01-01","e":"2023-01-01","mid":"2022-07-02"},
{"y":"2023","s":"2023-01-01","e":"2024-01-01","mid":"2023-07-02"},
{"y":"2024","s":"2024-01-01","e":"2024-05-15","mid":"2024-03-05"}
],
"lab": [{"d":"2009-07-01","t":"Cdn:IPCI"}],
"lab2": [{"d":"2009-07-03","t":"Volume"}]
},
"vconcat": [
{
"width": 827, "height": 369,
"data": {"name": "p"},
"encoding": {"x": {"field": "d", "type": "temporal", "scale": {"domain": ["2009-05-08", "2024-05-15"], "range": [0, 780]}, "axis": {"labels": false, "grid": true, "gridWidth": 2, "tickCount": {"interval": "year", "step": 1}, "minExtent": 0, "maxExtent": 0}}},
"resolve": {"axis": {"y": "independent"}},
"layer": [
{"data": {"name": "gp"},
 "mark": {"type": "rule", "color": "#b8b8b8", "strokeWidth": 1.6},
 "encoding": {"x": {"field": "s", "type": "temporal", "axis": {"labels": false, "grid": true, "gridWidth": 2, "tickCount": {"interval": "year", "step": 1}, "minExtent": 0, "maxExtent": 0}}, "x2": {"field": "e"}, "y": {"field": "g", "type": "quantitative", "scale": {"domain": [0, 79.4], "nice": false, "zero": false}, "axis": null}}},
{"mark": {"type": "rule", "color": "black", "strokeWidth": 2.6},
 "encoding": {"y": {"field": "h", "type": "quantitative", "axis": null}, "y2": {"field": "l"}}},
{"mark": {"type": "point", "shape": "square", "filled": true, "size": 5, "color": "#ff0000", "opacity": 1},
 "encoding": {"y": {"field": "c", "type": "quantitative", "axis": {"orient": "right", "offset": -47, "values": [4,8,12,16,20,24,28,32,36,40,44,48,52,56,60,64,68,72,76], "format": ".2f", "domain": true, "domainColor": "black", "domainWidth": 2, "labelPadding": 5, "grid": false}}}},
{"mark": {"type": "line", "color": "#ff00ff", "strokeWidth": 1.5},
 "encoding": {"y": {"field": "m", "type": "quantitative", "axis": null}}},
{"mark": {"type": "line", "color": "#0000ff", "strokeWidth": 1.5},
 "encoding": {"y": {"field": "b", "type": "quantitative", "axis": null}}},
{"data": {"name": "lab"},
 "mark": {"type": "text", "align": "left", "baseline": "middle", "fontSize": 13, "font": "Liberation Sans", "color": "black"},
 "encoding": {"y": {"datum": 77.2, "type": "quantitative", "axis": null}, "text": {"field": "t"}}}
]
},
{
"width": 827, "height": 106,
"encoding": {"x": {"field": "d", "type": "temporal", "scale": {"domain": ["2009-05-08", "2024-05-15"], "range": [0, 780]}, "axis": {"labels": false, "grid": true, "gridWidth": 2, "tickCount": {"interval": "year", "step": 1}, "minExtent": 0, "maxExtent": 0}}},
"resolve": {"axis": {"y": "independent"}},
"layer": [
{"data": {"name": "gv"},
 "mark": {"type": "rule", "color": "#b8b8b8", "strokeWidth": 1.6},
 "encoding": {"x": {"field": "s", "type": "temporal", "axis": {"labels": false, "grid": true, "gridWidth": 2, "tickCount": {"interval": "year", "step": 1}, "minExtent": 0, "maxExtent": 0}}, "x2": {"field": "e"}, "y": {"field": "g", "type": "quantitative", "scale": {"domain": [-208000, 7950000], "nice": false, "zero": false}, "axis": null}}},
{"data": {"name": "p"}, "mark": {"type": "bar", "size": 3},
 "encoding": {"y": {"field": "v", "type": "quantitative", "axis": null}, "y2": {"datum": -208000}, "color": {"field": "k", "type": "nominal", "scale": {"domain": ["u", "d", "f"], "range": ["#4cb34c", "#ff0000", "#a0a0a0"]}, "legend": null}}},
{"data": {"name": "vs"}, "mark": {"type": "bar", "size": 2.5},
 "encoding": {"y": {"field": "v", "type": "quantitative", "axis": {"orient": "right", "offset": -47, "values": [2000000, 4000000, 6000000], "labelExpr": "format(datum.value/1000000, '.1f') + ' M'", "domain": true, "domainColor": "black", "domainWidth": 2, "labelPadding": 5, "grid": false}}, "y2": {"datum": -208000}, "color": {"field": "k", "type": "nominal", "legend": null}}},
{"data": {"name": "lab2"},
 "mark": {"type": "text", "align": "left", "baseline": "middle", "fontSize": 13, "font": "Liberation Sans", "color": "black"},
 "encoding": {"y": {"datum": 7150000, "type": "quantitative", "axis": null}, "text": {"field": "t"}}}
]
},
{
"width": 827, "height": 29,
"data": {"name": "yr"},
"layer": [
{"mark": {"type": "rect", "fill": "white", "stroke": "black", "strokeWidth": 2},
 "encoding": {"x": {"field": "s", "type": "temporal", "scale": {"domain": ["2009-05-08", "2024-05-15"], "range": [0, 780]}, "axis": null}, "x2": {"field": "e"}, "y": {"datum": 14, "type": "quantitative", "scale": {"domain": [0, 29], "nice": false, "zero": false}, "axis": null}, "y2": {"datum": 29}}},
{"mark": {"type": "rect", "fill": "white", "stroke": "black", "strokeWidth": 2},
 "encoding": {"x": {"field": "s", "type": "temporal", "axis": null}, "x2": {"field": "e"}, "y": {"datum": 0, "type": "quantitative", "axis": null}, "y2": {"datum": 14}}},
{"mark": {"type": "text", "align": "center", "baseline": "middle", "fontSize": 13, "font": "Liberation Sans", "color": "black"},
 "encoding": {"x": {"field": "mid", "type": "temporal", "axis": null}, "y": {"datum": 7, "type": "quantitative", "axis": null}, "text": {"field": "y"}}}
]
}
],
"config": {
"view": {"stroke": "black", "strokeWidth": 2},
"font": "Liberation Sans",
"concat": {"spacing": -2},
"axis": {"title": null, "domain": false, "ticks": false, "tickSize": 0, "labelFont": "Liberation Sans", "labelFontSize": 13, "labelColor": "black", "gridColor": "#c8c8c8"}
}
}
